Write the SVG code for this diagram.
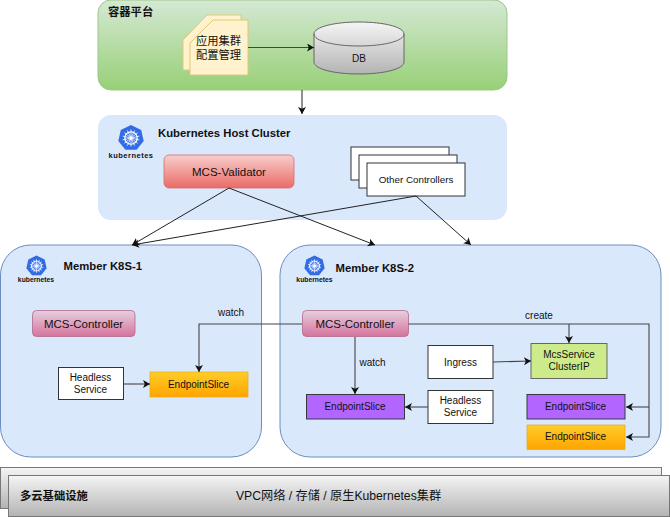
<svg xmlns="http://www.w3.org/2000/svg" xmlns:xlink="http://www.w3.org/1999/xlink" width="670" height="517" viewBox="0 0 670 517">
<style>
text{font-family:"Liberation Sans","Noto Sans CJK SC",Arial,sans-serif;fill:#111;text-anchor:middle}
.l{text-anchor:start}
.b{font-weight:bold}
.s10{font-size:10px}.s11{font-size:11.500px}.s12{font-size:11.300px}
.blue{fill:#dae8fc}
.box{fill:#fff;stroke:#333;stroke-width:1}
.purple{fill:#b266ff;stroke:#36393d;stroke-width:1}
.orange{fill:url(#gOrange);stroke:#e6a817;stroke-width:.7}
.pink{fill:url(#gPink);stroke:#b0688c;stroke-width:.8}
.doc{fill:#fff2cc;stroke:#e0c878;stroke-width:1}
.c{fill:none;stroke:#222;stroke-width:1}
.c2{fill:none;stroke:#444;stroke-width:1.1}
</style>
<defs>
<linearGradient id="gGreen" x1="0" y1="0" x2="0" y2="1"><stop offset="0" stop-color="#d5e8d4"/><stop offset="1" stop-color="#97d077"/></linearGradient>
<linearGradient id="gRed" x1="0" y1="0" x2="0" y2="1"><stop offset="0" stop-color="#f8cecc"/><stop offset="1" stop-color="#ea6b66"/></linearGradient>
<linearGradient id="gPink" x1="0" y1="0" x2="0" y2="1"><stop offset="0" stop-color="#e6d0de"/><stop offset="1" stop-color="#d5739d"/></linearGradient>
<linearGradient id="gOrange" x1="0" y1="0" x2="0" y2="1"><stop offset="0" stop-color="#ffcd28"/><stop offset="1" stop-color="#ffa500"/></linearGradient>
<linearGradient id="gGray" x1="0" y1="0" x2="0" y2="1"><stop offset="0" stop-color="#f5f5f5"/><stop offset="1" stop-color="#b3b3b3"/></linearGradient>
<marker id="arr" markerUnits="userSpaceOnUse" markerWidth="9" markerHeight="9" refX="7" refY="4" orient="auto"><path d="M0 0L7 4L0 8L1.8 4Z" fill="#111"/></marker>
<g id="k8s">
<path d="M0-13L10.2-8.1L12.7 2.9L5.6 11.7L-5.6 11.7L-12.7 2.9L-10.2-8.1Z" fill="#326ce5"/>
<g fill="none" stroke="#fff">
<circle r="6.2" stroke-width="1.3"/>
<circle r="1.5" fill="#fff" stroke="none"/>
<path d="M0-8.5V8.5M-6.6-5.3L6.6 5.3M6.6-5.3L-6.6 5.3M-8.3 1.9L8.3-1.9M8.3 1.9L-8.3-1.9M-3.7 7.6L3.7-7.6M3.7 7.6L-3.7-7.6" stroke-width=".8"/>
</g>
</g>
</defs>

<g id="platform">
<rect x="98" y="0" width="409" height="90" rx="13" fill="url(#gGreen)" stroke="#9cc78a" stroke-width="1"/>
<text class="l b s12" x="108" y="16">容器平台</text>
</g>
<g id="app-config">
<path class="doc" d="M207 15H241V70H183V40Z"/>
<path class="doc" d="M213 20H248V75H190V43Z"/>
<text class="s12" x="218.500" y="45">应用集群</text>
<text class="s12" x="218.500" y="59">配置管理</text>
</g>
<g id="db">
<path d="M314 34C314 27 334 22 359 22S404 27 404 34V62C404 69 384 74 359 74S314 69 314 62Z" fill="url(#gGray)" stroke="#666" stroke-width="1"/>
<path d="M314 34C314 41 334 46 359 46S404 41 404 34" fill="none" stroke="#666" stroke-width="1"/>
<text class="s10" x="359" y="62">DB</text>
</g>

<g id="host-cluster">
<rect class="blue" x="98" y="115" width="409" height="105" rx="13"/>
<use xlink:href="#k8s" href="#k8s" transform="translate(131,138)"/>
<text class="b" font-size="7.500" x="131" y="158" style="letter-spacing:.5px">kubernetes</text>
<text class="l b s12" x="158" y="137">Kubernetes Host Cluster</text>
</g>
<g id="mcs-validator">
<rect x="164" y="155" width="130" height="33" rx="5" fill="url(#gRed)" stroke="#d0706c" stroke-width=".8"/>
<text class="s11" x="229" y="175.500">MCS-Validator</text>
</g>
<g id="other-controllers">
<rect class="box" x="351" y="147" width="98" height="33"/>
<rect class="box" x="359" y="155" width="98" height="33"/>
<rect class="box" x="367" y="163" width="98" height="33"/>
<text font-size="9.800" x="416" y="183">Other Controllers</text>
</g>

<g id="member-1">
<rect class="blue" x="0.500" y="245" width="261" height="212" rx="30" stroke="#6c8ebf" stroke-width="1"/>
<use xlink:href="#k8s" href="#k8s" transform="translate(36.500,266) scale(.8)"/>
<text class="b" font-size="6.800" x="36" y="282">kubernetes</text>
<text class="l b s12" x="63.500" y="270">Member K8S-1</text>
</g>
<g id="m1-controller">
<rect class="pink" x="32.500" y="310.500" width="102.500" height="26" rx="4"/>
<text class="s11" x="83.500" y="327.500">MCS-Controller</text>
</g>
<g id="m1-headless">
<rect class="box" x="58.500" y="367.500" width="65" height="32"/>
<text class="s10" x="90.500" y="381">Headless</text>
<text class="s10" x="90.500" y="393">Service</text>
</g>
<g id="m1-endpointslice">
<rect class="orange" x="150" y="372" width="98" height="25"/>
<text class="s10" x="198.500" y="387.500">EndpointSlice</text>
</g>

<g id="member-2">
<rect class="blue" x="280" y="245" width="381" height="212" rx="30" stroke="#6c8ebf" stroke-width="1"/>
<use xlink:href="#k8s" href="#k8s" transform="translate(314.500,266) scale(.8)"/>
<text class="b" font-size="6.800" x="314.500" y="282">kubernetes</text>
<text class="l b s12" x="335.500" y="272">Member K8S-2</text>
</g>
<g id="m2-controller">
<rect class="pink" x="302.500" y="310.500" width="106" height="26" rx="4"/>
<text class="s11" x="355" y="327.500">MCS-Controller</text>
</g>
<g id="m2-endpointslice-a">
<rect class="purple" x="306.500" y="394.500" width="98" height="24.500"/>
<text class="s10" x="355" y="410">EndpointSlice</text>
</g>
<g id="m2-headless">
<rect class="box" x="428" y="390.500" width="65" height="33"/>
<text class="s10" x="460.500" y="404">Headless</text>
<text class="s10" x="460.500" y="416">Service</text>
</g>
<g id="m2-ingress">
<rect class="box" x="428" y="345.500" width="65" height="33"/>
<text class="s10" x="460.500" y="365.500">Ingress</text>
</g>
<g id="m2-mcsservice">
<rect x="531" y="343.500" width="76" height="35" fill="#cdeb8b" stroke="#666" stroke-width="1"/>
<text class="s10" x="569" y="358">McsService</text>
<text class="s10" x="569" y="370">ClusterIP</text>
</g>
<g id="m2-endpointslice-b">
<rect class="purple" x="527" y="394.500" width="98" height="24.500"/>
<text class="s10" x="575.500" y="410">EndpointSlice</text>
</g>
<g id="m2-endpointslice-c">
<rect class="orange" x="527" y="425" width="98" height="24.500"/>
<text class="s10" x="575.500" y="440">EndpointSlice</text>
</g>

<g id="infra">
<rect x="0.500" y="467.500" width="661" height="41" fill="url(#gGray)" stroke="#777" stroke-width="1"/>
<rect x="8.500" y="475.500" width="661" height="41" fill="url(#gGray)" stroke="#777" stroke-width="1"/>
<text class="l b s12" x="20" y="500">多云基础设施</text>
<text font-size="12.200" x="338.500" y="500">VPC网络 / 存储 / 原生Kubernetes集群</text>
</g>

<g id="connectors">
<path class="c2" d="M248 47.500H314" marker-end="url(#arr)"/>
<path class="c" d="M302 90V114" marker-end="url(#arr)"/>
<path class="c" d="M229 188L132 245" marker-end="url(#arr)"/>
<path class="c" d="M229 188L375 245" marker-end="url(#arr)"/>
<path class="c" d="M416 196L132 245" marker-end="url(#arr)"/>
<path class="c" d="M416 196L471 245" marker-end="url(#arr)"/>
<path class="c2" d="M302 324H199V372" marker-end="url(#arr)"/>
<path class="c2" d="M123.500 384H150" marker-end="url(#arr)"/>
<path class="c2" d="M355 337V394" marker-end="url(#arr)"/>
<path class="c2" d="M428 407H405" marker-end="url(#arr)"/>
<path class="c2" d="M493 362L531 361" marker-end="url(#arr)"/>
<path class="c2" d="M408.500 324H649V437H626" marker-end="url(#arr)"/>
<path class="c2" d="M569 324V343" marker-end="url(#arr)"/>
<path class="c2" d="M649 407H626" marker-end="url(#arr)"/>
<text class="s10" x="231" y="315.500">watch</text>
<text class="s10" x="372.500" y="365.500">watch</text>
<text class="s10" x="539" y="318.500">create</text>
</g>
</svg>
